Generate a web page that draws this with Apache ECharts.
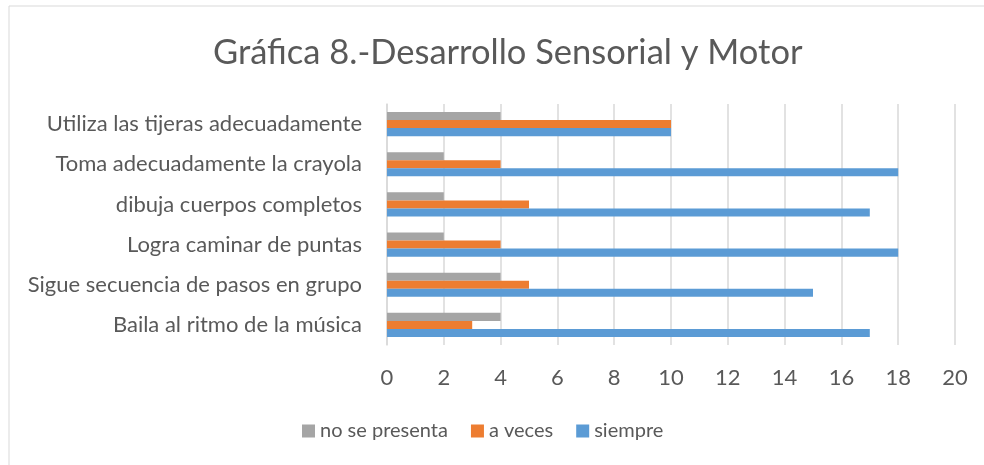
<!DOCTYPE html>
<html lang="es">
<head>
    <meta charset="UTF-8">
    <title>Gráfica 8</title>
    <script src="https://cdn.jsdelivr.net/npm/echarts@6/dist/echarts.min.js"></script>
    <style>
        html, body { margin: 0; padding: 0; background: #fff; }
        #main { width: 984px; height: 465px; }
    </style>
</head>
<body>
<div id="main"></div>
<script type="text/javascript">
    // categorias (de abajo hacia arriba)
    var categorias = [
        'Baila al ritmo de la música',
        'Sigue secuencia de pasos en grupo',
        'Logra caminar de puntas',
        'dibuja cuerpos completos',
        'Toma adecuadamente la crayola',
        'Utiliza las tijeras adecuadamente'
    ];
    var noSePresenta = [4, 4, 2, 2, 2, 4];
    var aVeces = [3, 5, 4, 5, 4, 10];
    var siempre = [17, 15, 18, 17, 18, 10];
    var ticksX = [0, 2, 4, 6, 8, 10, 12, 14, 16, 18, 20];

    var fuente = 'Lato';
    var gris = '#595959';

    var chart = echarts.init(document.getElementById('main'));

    chart.setOption({
        animation: false,
        title: {
            text: 'Gráfica 8.-Desarrollo Sensorial y Motor',
            left: 208,
            top: 30,
            textStyle: { fontFamily: fuente, fontSize: 34.5, fontWeight: 'normal', color: gris }
        },
        graphic: [{
            type: 'rect',
            shape: { x: 9, y: 6, width: 990, height: 480 },
            style: { fill: 'none', stroke: '#D9D9D9', lineWidth: 1 },
            silent: true
        }],
        legend: {
            data: ['no se presenta', 'a veces', 'siempre'],
            top: 416,
            left: 297,
            itemWidth: 13,
            itemHeight: 13,
            itemGap: 23,
            icon: 'rect',
            textStyle: { fontFamily: fuente, fontSize: 20, color: gris }
        },
        grid: { left: 387, right: 29, top: 104, bottom: 120 },
        xAxis: {
            type: 'value',
            min: 0,
            max: 20,
            interval: 2,
            axisLine: { show: false },
            axisTick: { show: false },
            splitLine: { lineStyle: { color: '#D9D9D9', width: 1.5 } },
            axisLabel: {
                margin: 22,
                fontFamily: fuente, fontSize: 22, color: gris,
                formatter: function (v) { return ticksX.indexOf(v) >= 0 ? String(v) : ''; }
            }
        },
        yAxis: {
            type: 'category',
            data: categorias,
            axisLine: { lineStyle: { color: '#D9D9D9', width: 1.5 } },
            axisTick: { show: false },
            axisLabel: { margin: 25, fontFamily: fuente, fontSize: 22, color: gris }
        },
        series: [
            {
                name: 'no se presenta', type: 'bar', data: noSePresenta,
                itemStyle: { color: '#A5A5A5' },
                barGap: '0%', barCategoryGap: '40%'
            },
            {
                name: 'a veces', type: 'bar', data: aVeces,
                itemStyle: { color: '#ED7D31' }
            },
            {
                name: 'siempre', type: 'bar', data: siempre,
                itemStyle: { color: '#5B9BD5' }
            }
        ]
    });
</script>
</body>
</html>
